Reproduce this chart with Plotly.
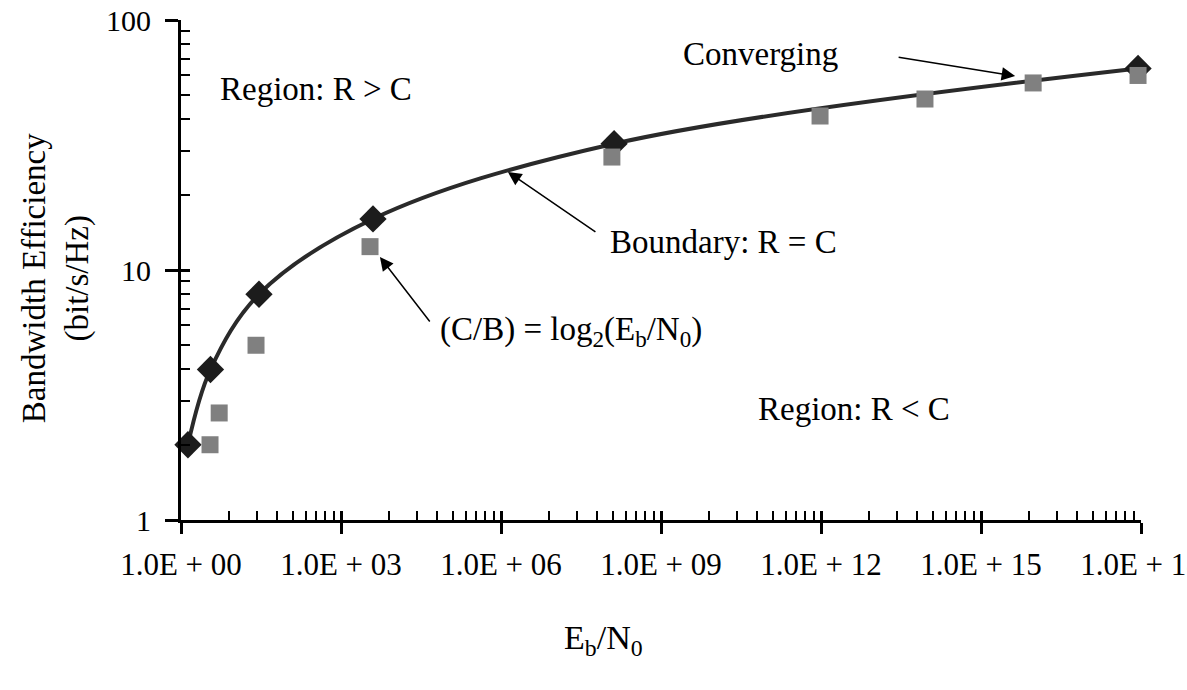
import plotly.graph_objects as go

# ---- data ----
boundary_ebn0 = [1.35, 3.57, 29.0, 3.98e3, 1.32e8, 8.8e17]
boundary_eff = [2, 4, 8, 16, 32, 64]

log_ebn0 = [3.5, 5.2, 25.5, 3.5e3, 1.2e8, 9.6e11, 8.9e13, 9.5e15, 8.8e17]
log_eff = [2.0, 2.68, 5.0, 12.4, 28.3, 41.3, 48.3, 56.0, 60.0]

x_tick_vals = [1e0, 1e3, 1e6, 1e9, 1e12, 1e15, 1e18]
x_tick_text = ["1.0E + 00", "1.0E + 03", "1.0E + 06", "1.0E + 09",
               "1.0E + 12", "1.0E + 15", "1.0E + 18"]
y_tick_vals = [1, 10, 100]
y_tick_text = ["1", "10", "100"]

# Excel-style log axis with base 1000 -> minor ticks at k^3 * 1000^n
x_minor_vals = [k ** 3 * 1000 ** n for n in range(6) for k in range(2, 10)]
y_minor_vals = [k * 10 ** n for n in range(2) for k in range(2, 10)]

FONT = "Liberation Serif, Times New Roman, serif"
FS = 33

fig = go.Figure()

fig.add_trace(go.Scatter(
    x=boundary_ebn0, y=boundary_eff, mode="lines",
    line=dict(color="#2a2a2a", width=4, shape="spline", smoothing=1.0),
    cliponaxis=False, showlegend=False, hoverinfo="skip"))

fig.add_trace(go.Scatter(
    x=boundary_ebn0, y=boundary_eff, mode="markers",
    marker=dict(symbol="diamond", size=21, color="#1c1c1c"),
    cliponaxis=False, showlegend=False))

fig.add_trace(go.Scatter(
    x=log_ebn0, y=log_eff, mode="markers",
    marker=dict(symbol="square", size=17, color="#808080"),
    cliponaxis=False, showlegend=False))

axis_common = dict(showgrid=False, zeroline=False, mirror=False)

fig.update_layout(
    width=1187, height=690,
    margin=dict(l=181, r=46, t=20, b=170, pad=0),
    paper_bgcolor="white", plot_bgcolor="white",
    font=dict(family=FONT, size=FS, color="black"),
    xaxis=dict(
        type="log", range=[0, 18], automargin=False,
        showline=True, linewidth=3, linecolor="black",
        tickmode="array", tickvals=x_tick_vals, ticktext=x_tick_text,
        ticks="outside", ticklen=11, tickwidth=2.5, tickcolor="black",
        ticklabelstandoff=4, ticklabeloverflow="allow",
        minor=dict(tickmode="array", tickvals=x_minor_vals, ticks="inside",
                   ticklen=9, tickwidth=2, tickcolor="black", showgrid=False),
        tickfont=dict(family=FONT, size=31, color="black"),
        **axis_common),
    yaxis=dict(
        type="log", range=[0, 2], automargin=False,
        showline=True, linewidth=3, linecolor="black",
        tickmode="array", tickvals=y_tick_vals, ticktext=y_tick_text,
        ticks="outside", ticklen=13, tickwidth=2.5, tickcolor="black",
        ticklabelstandoff=8, ticklabeloverflow="allow",
        minor=dict(tickmode="array", tickvals=y_minor_vals, ticks="inside",
                   ticklen=9, tickwidth=2, tickcolor="black", showgrid=False),
        tickfont=dict(family=FONT, size=30, color="black"),
        **axis_common),
    xaxis2=dict(
        type="log", range=[0, 18], overlaying="x", anchor="y",
        tickmode="array", tickvals=x_tick_vals, ticks="inside", ticklen=9,
        tickwidth=2.5, tickcolor="black", showticklabels=False,
        showline=False, **axis_common),
    yaxis2=dict(
        type="log", range=[0, 2], overlaying="y", anchor="x",
        tickmode="array", tickvals=y_tick_vals, ticks="inside", ticklen=9,
        tickwidth=2.5, tickcolor="black", showticklabels=False,
        showline=False, **axis_common),
)

# invisible helper trace so the overlay axes are drawn
fig.add_trace(go.Scatter(x=[boundary_ebn0[0]], y=[boundary_eff[0]],
                         xaxis="x2", yaxis="y2", mode="markers",
                         marker=dict(opacity=0), showlegend=False,
                         hoverinfo="skip"))

def txt(text, x, y, xanchor="left", size=FS):
    fig.add_annotation(text=text, xref="paper", yref="paper", x=x, y=y,
                       xanchor=xanchor, yanchor="middle", showarrow=False,
                       font=dict(family=FONT, size=size, color="black"))

def arrow(xlog, ylog, ax, ay):
    fig.add_annotation(text="", x=xlog, y=ylog, xref="x", yref="y",
                       ax=ax, ay=ay, showarrow=True, arrowhead=2,
                       arrowsize=1.8, arrowwidth=1.5, arrowcolor="black",
                       standoff=0, startstandoff=0)

txt("Region: R > C", 0.0385, 0.862)
txt("Converging", 0.521, 0.932)
txt("Boundary: R = C", 0.445, 0.556)
txt("(C/B) = log<sub>2</sub>(E<sub>b</sub>/N<sub>0</sub>)", 0.268, 0.378)
txt("Region: R < C", 0.599, 0.222)

arrow(15.64, 1.776, -118, -19)
arrow(6.13, 1.392, 89, 61)
arrow(3.73, 1.052, 51, 66)

# axis titles
fig.add_annotation(text="Bandwidth Efficiency<br>(bit/s/Hz)",
                   xref="paper", yref="paper", x=-0.130, y=0.484,
                   xanchor="center", yanchor="middle", textangle=-90,
                   showarrow=False,
                   font=dict(family=FONT, size=33, color="black"))
fig.add_annotation(text="E<sub>b</sub>/N<sub>0</sub>",
                   xref="paper", yref="paper", x=0.44, y=-0.24,
                   xanchor="center", yanchor="middle", showarrow=False,
                   font=dict(family=FONT, size=34, color="black"))

fig.write_html("out.html")
